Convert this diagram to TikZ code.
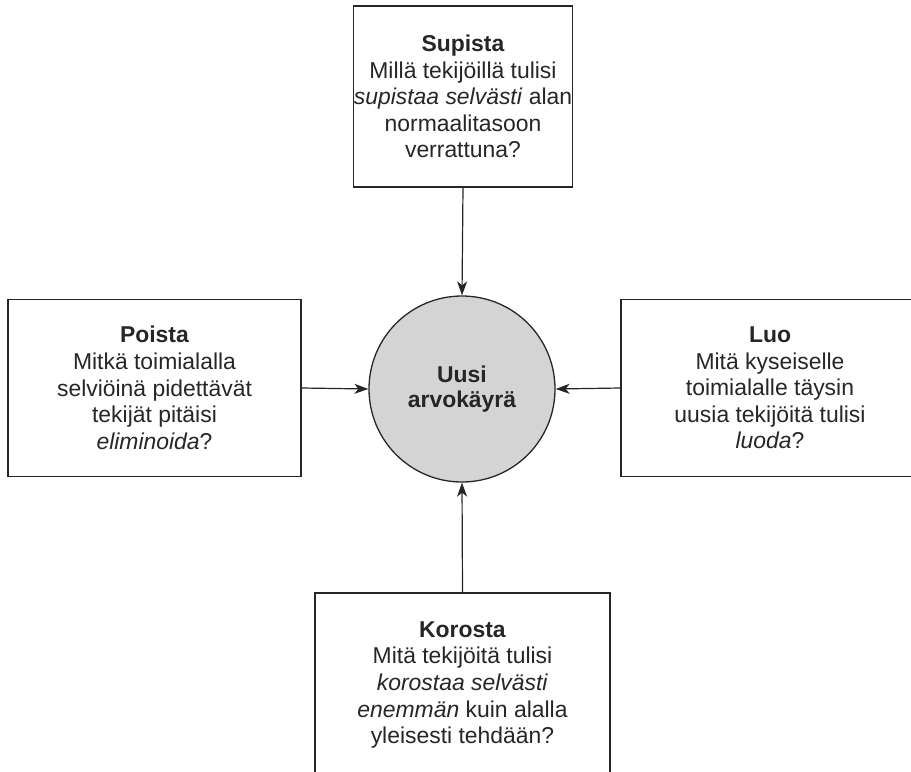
\documentclass[tikz,border=0pt]{standalone}
\usepackage{fontspec}
\setmainfont{Liberation Sans}
\usetikzlibrary{arrows.meta}
\definecolor{ink}{HTML}{262626}
\definecolor{disc}{HTML}{D4D4D4}
\begin{document}
\begin{tikzpicture}[x=1bp,y=-1bp,
  txt/.style={font=\fontsize{23}{26.7}\selectfont, align=center, text=ink, inner sep=0pt},
  qbox/.style={txt, draw=ink, line width=1.3bp, fill=white, rectangle},
  hub/.style={txt, circle, draw=ink, line width=1.3bp, fill=disc, minimum size=186bp, font=\fontsize{23}{25.7}\selectfont\bfseries},
  feed/.style={draw=ink, line width=1.2bp, -{Stealth[length=14bp,width=10bp,inset=4bp]}}]
  \useasboundingbox (0,0) rectangle (911,772);
  \clip (0,0) rectangle (911,772);

  % central circle
  \node[hub] (arvo) at (462,389) {Uusi\\arvokäyrä};

  % four question boxes (right and bottom ones run past the page edge)
  \node[qbox, minimum width=181bp, minimum height=181bp] (supista) at (463,96.5)
    {\textbf{Supista}\\Millä tekijöillä tulisi\\\textit{supistaa selvästi} alan\\normaalitasoon\\verrattuna?};
  \node[qbox, minimum width=293bp, minimum height=177bp] (poista) at (154.5,388)
    {\textbf{Poista}\\Mitkä toimialalla\\selviöinä pidettävät\\tekijät pitäisi\\\textit{eliminoida}?};
  \node[qbox, minimum width=298bp, minimum height=177bp] (luo) at (770,388)
    {\textbf{Luo}\\Mitä kyseiselle\\toimialalle täysin\\uusia tekijöitä tulisi\\\textit{luoda}?};
  \node[qbox, minimum width=295bp, minimum height=184bp] (korosta) at (462.5,685)
    {\textbf{Korosta}\\Mitä tekijöitä tulisi\\\textit{korostaa selvästi}\\\textit{enemmän} kuin alalla\\yleisesti tehdään?};

  % connectors into the circle
  \draw[feed] (supista.south) -- (arvo.north);
  \draw[feed] (poista.east) -- (arvo.west);
  \draw[feed] (luo.west) -- (arvo.east);
  \draw[feed] (korosta.north) -- (arvo.south);
\end{tikzpicture}
\end{document}
